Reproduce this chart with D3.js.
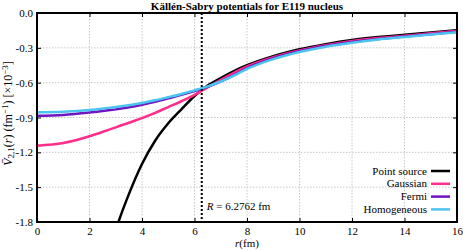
<!DOCTYPE html>
<html>
<head>
<meta charset="utf-8">
<script src="https://cdn.jsdelivr.net/npm/d3@7"></script>
<style>
  body { margin: 0; background: #fff; }
  svg text { font-family: "Liberation Serif", "DejaVu Serif", serif; font-size: 11px; fill: #000; }
</style>
</head>
<body>
<svg id="chart" width="463" height="251"></svg>
<script>
// radius grid (fm) shared by every series
var rValues = [0, 1, 2, 2.8, 3, 3.5, 4, 4.5, 5, 5.5, 6, 6.5, 7, 7.5, 8, 9, 10, 11, 12, 13, 14, 15, 16];

// potentials in units of 1e-3 fm^-1
var pointSource = [null, null, null, -2.02, -1.87, -1.56, -1.30, -1.10, -0.95, -0.83, -0.715, -0.625, -0.56, -0.50, -0.45, -0.372, -0.313, -0.268, -0.232, -0.207, -0.188, -0.167, -0.147];
var gaussian    = [-1.143, -1.12, -1.062, -1.0, -0.985, -0.945, -0.905, -0.86, -0.81, -0.76, -0.705, -0.64, -0.575, -0.515, -0.46, -0.38, -0.322, -0.277, -0.241, -0.215, -0.196, -0.175, -0.155];
var fermi       = [-0.885, -0.878, -0.857, -0.835, -0.83, -0.812, -0.79, -0.765, -0.735, -0.705, -0.672, -0.635, -0.59, -0.535, -0.475, -0.39, -0.33, -0.285, -0.25, -0.223, -0.203, -0.182, -0.162];
var homogeneous = [-0.855, -0.85, -0.835, -0.815, -0.81, -0.795, -0.775, -0.752, -0.725, -0.697, -0.666, -0.632, -0.59, -0.54, -0.482, -0.397, -0.336, -0.29, -0.256, -0.228, -0.207, -0.186, -0.165];

var seriesNames  = ['Point source', 'Gaussian', 'Fermi', 'Homogeneous'];
var seriesValues = [pointSource, gaussian, fermi, homogeneous];
var seriesColors = ['#000000', '#ff2d8c', '#7014c4', '#4cc4f0'];

var xTicks = [0, 2, 4, 6, 8, 10, 12, 14, 16];
var yTicks = [0, -0.3, -0.6, -0.9, -1.2, -1.5, -1.8];
var nuclearRadius = 6.2762;

var serif = '"Liberation Serif", "DejaVu Serif", serif';
var svg = d3.select('#chart');
var pl = 37, pr = 457, pt = 13, pb = 222;

var x = d3.scaleLinear().domain([0, 16]).range([pl, pr]);
var y = d3.scaleLinear().domain([-1.8, 0]).range([pb, pt]);

svg.append('defs').append('clipPath').attr('id', 'plot')
   .append('rect')
   .attr('x', pl).attr('y', pt)
   .attr('width', pr - pl).attr('height', pb - pt);

// grid
svg.append('g').selectAll('line').data(xTicks).enter().append('line')
   .attr('x1', function(d) { return x(d); }).attr('x2', function(d) { return x(d); })
   .attr('y1', pt).attr('y2', pb)
   .attr('stroke', '#c8c8c8').attr('stroke-width', 1).attr('stroke-dasharray', '1.5,1.5');
svg.append('g').selectAll('line').data(yTicks).enter().append('line')
   .attr('y1', function(d) { return y(d); }).attr('y2', function(d) { return y(d); })
   .attr('x1', pl).attr('x2', pr)
   .attr('stroke', '#c8c8c8').attr('stroke-width', 1).attr('stroke-dasharray', '1.5,1.5');

// curves
var line = d3.line()
    .defined(function(d) { return d[1] !== null; })
    .x(function(d) { return x(d[0]); })
    .y(function(d) { return y(d[1]); })
    .curve(d3.curveMonotoneX);

var curves = svg.append('g').attr('clip-path', 'url(#plot)');
seriesValues.forEach(function(vals, i) {
    var pts = rValues.map(function(r, j) { return [r, vals[j]]; });
    curves.append('path')
       .attr('d', line(pts))
       .attr('fill', 'none')
       .attr('stroke', seriesColors[i])
       .attr('stroke-width', 2.5);
});

// nuclear radius marker
svg.append('line')
   .attr('x1', x(nuclearRadius)).attr('x2', x(nuclearRadius))
   .attr('y1', pt).attr('y2', pb)
   .attr('stroke', '#000').attr('stroke-width', 2).attr('stroke-dasharray', '2,2');
var rLabel = svg.append('text').attr('x', x(nuclearRadius) + 5).attr('y', 210);
rLabel.append('tspan').attr('font-style', 'italic').text('R');
rLabel.append('tspan').text(' = 6.2762 fm');

// axes: bottom / left labels, ticks inward on all four sides
var xAxis = d3.axisBottom(x).tickValues(xTicks).tickFormat(d3.format('d')).tickSizeInner(-4).tickSizeOuter(0).tickPadding(5);
var yAxis = d3.axisLeft(y).tickValues(yTicks).tickFormat(d3.format('.1f')).tickSizeInner(-4).tickSizeOuter(0).tickPadding(4);
var xTop = d3.axisTop(x).tickValues(xTicks).tickFormat('').tickSizeInner(-4).tickSizeOuter(0);
var yRight = d3.axisRight(y).tickValues(yTicks).tickFormat('').tickSizeInner(-4).tickSizeOuter(0);

[[xAxis, 'translate(0,' + pb + ')'], [yAxis, 'translate(' + pl + ',0)'],
 [xTop, 'translate(0,' + pt + ')'], [yRight, 'translate(' + pr + ',0)']].forEach(function(a) {
    var g = svg.append('g').attr('transform', a[1]).call(a[0]);
    g.attr('font-family', serif).attr('font-size', 11);
    g.select('.domain').remove();
    g.selectAll('line').attr('stroke', '#000').attr('stroke-width', 1);
    g.selectAll('text').text(function() { return this.textContent.replace('\u2212', '-'); });
});

svg.append('rect')
   .attr('x', pl).attr('y', pt)
   .attr('width', pr - pl).attr('height', pb - pt)
   .attr('fill', 'none').attr('stroke', '#000').attr('stroke-width', 2);

// title and axis titles
svg.append('text').attr('x', (pl + pr) / 2).attr('y', 10)
   .attr('text-anchor', 'middle').attr('font-weight', 'bold')
   .text('Källén-Sabry potentials for E119 nucleus');

var xl = svg.append('text').attr('x', (pl + pr) / 2).attr('y', 247).attr('text-anchor', 'middle');
xl.append('tspan').attr('font-style', 'italic').text('r');
xl.append('tspan').text('(fm)');

var yl = svg.append('text')
   .attr('transform', 'translate(12,' + ((pt + pb) / 2 - 4) + ') rotate(-90)')
   .attr('text-anchor', 'middle')
   .style('font-size', '12px');
yl.append('tspan').attr('font-style', 'italic').text('V\u0304');
yl.append('tspan').style('font-size', '9px').attr('dy', 2).text('2,1');
yl.append('tspan').attr('dy', -2).text('(');
yl.append('tspan').attr('font-style', 'italic').text('r');
yl.append('tspan').text(') (fm');
yl.append('tspan').style('font-size', '9px').attr('dy', -4).text('\u22121');
yl.append('tspan').attr('dy', 4).text(') [\u00d710');
yl.append('tspan').style('font-size', '9px').attr('dy', -4).text('\u22123');
yl.append('tspan').attr('dy', 4).text(']');

// legend
var legend = svg.append('g');
seriesNames.forEach(function(name, i) {
    var ly = 171 + i * 12.8;
    legend.append('text').attr('x', 427).attr('y', ly + 3.5).attr('text-anchor', 'end').text(name);
    legend.append('line')
       .attr('x1', 431).attr('x2', 450).attr('y1', ly).attr('y2', ly)
       .attr('stroke', seriesColors[i]).attr('stroke-width', 2.5);
});
</script>
</body>
</html>
